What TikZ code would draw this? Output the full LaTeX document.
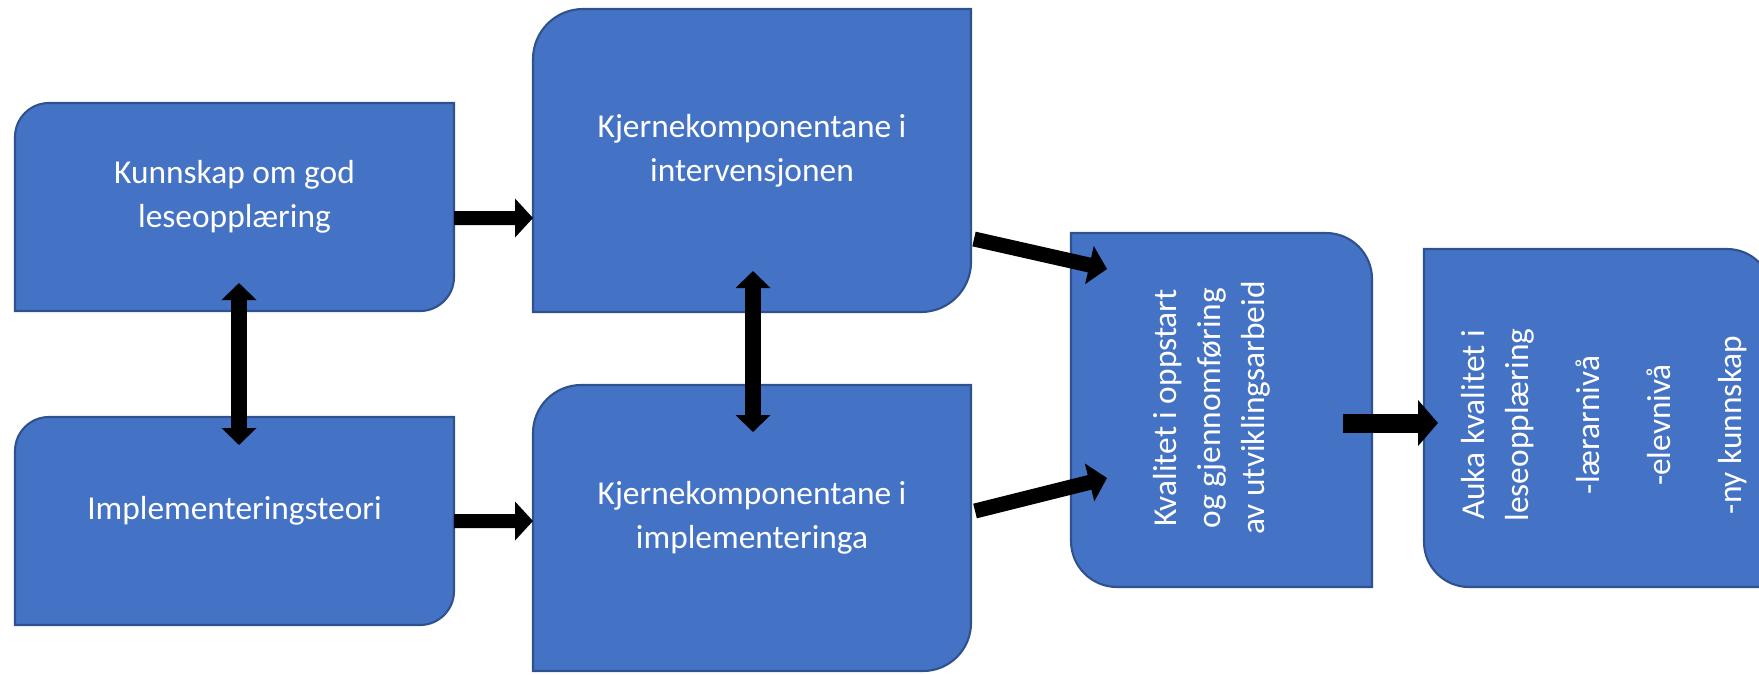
\documentclass[tikz,border=0pt]{standalone}
\usepackage{fontspec}
\setmainfont{Carlito}
\usetikzlibrary{arrows.meta, positioning}
\definecolor{boxblue}{HTML}{4472C4}
\definecolor{boxedge}{HTML}{2F528F}

% box with rounded top left and bottom right corners
\newcommand{\roundtlbr}[2]{%
  \filldraw[boxshape] (#1.south west) -- ([yshift=-#2]#1.north west)
    arc[start angle=180, end angle=90, radius=#2] -- (#1.north east)
    -- ([yshift=#2]#1.south east) arc[start angle=0, end angle=-90, radius=#2] -- cycle;}
% box with rounded top right and bottom left corners
\newcommand{\roundtrbl}[2]{%
  \filldraw[boxshape] (#1.north west) -- ([xshift=-#2]#1.north east)
    arc[start angle=90, end angle=0, radius=#2] -- (#1.south east)
    -- ([xshift=#2]#1.south west) arc[start angle=270, end angle=180, radius=#2] -- cycle;}

\begin{document}
\begin{tikzpicture}[
        box/.style={draw=none, inner sep=0pt, outer sep=0pt},
        boxshape/.style={fill=boxblue, draw=boxedge, line width=0.6pt},
        boxtext/.style={text=white, align=center, font=\fontsize{9.5}{12.5}\selectfont},
        fatarrow/.style={black, line width=0.14cm, -{Triangle[width=0.38cm, length=0.18cm]}},
        fatdouble/.style={black, line width=0.16cm, {Triangle[width=0.34cm, length=0.17cm]}-{Triangle[width=0.34cm, length=0.17cm]}}
      ]
        \useasboundingbox (0,0) rectangle (17.59,6.74);

        % Boxes
        \node (kunnskap) [box, minimum width=4.39cm, minimum height=2.08cm] at (2.345,4.67) {};
        \node (teori) [box, minimum width=4.39cm, minimum height=2.08cm, below=1.06cm of kunnskap] {};
        \node (kjerne_int) [box, minimum width=4.38cm, minimum height=3.03cm] at (7.52,5.135) {};
        \node (kjerne_impl) [box, minimum width=4.38cm, minimum height=2.86cm, below=0.73cm of kjerne_int] {};
        \node (kvalitet) [box, minimum width=3.01cm, minimum height=3.54cm] at (12.215,2.64) {};
        \node (auka) [box, minimum width=3.48cm, minimum height=3.38cm] at (15.98,2.56) {};

        \roundtlbr{kunnskap}{0.34cm}
        \roundtlbr{teori}{0.34cm}
        \roundtlbr{kjerne_int}{0.5cm}
        \roundtlbr{kjerne_impl}{0.48cm}
        \roundtrbl{kvalitet}{0.46cm}
        \roundtrbl{auka}{0.45cm}

        % Texts
        \node (kunnskap_txt) [boxtext] at ([yshift=0.1cm]kunnskap.center) {Kunnskap om god\\leseopplæring};
        \node (teori_txt) [boxtext] at ([yshift=0.1cm]teori.center) {Implementeringsteori};
        \node (kjerne_int_txt) [boxtext] at ([yshift=0.1cm]kjerne_int.center) {Kjernekomponentane i\\intervensjonen};
        \node (kjerne_impl_txt) [boxtext] at ([yshift=0.1cm]kjerne_impl.center) {Kjernekomponentane i\\implementeringa};
        \node (kvalitet_txt) [boxtext, rotate=90] at ([xshift=-0.1cm, yshift=0.02cm]kvalitet.center) {Kvalitet i oppstart\\og gjennomføring\\av utviklingsarbeid};
        \node (auka_txt) [boxtext, rotate=90] at ([xshift=0.06cm, yshift=-0.07cm]auka.center) {Auka kvalitet i\\leseopplæring\\[0.27cm]-lærarnivå\\[0.27cm]-elevnivå\\[0.27cm]-ny kunnskap};

        % Arrows
        \draw [fatarrow] ([yshift=-0.11cm]kunnskap.east) -- ([yshift=-0.575cm]kjerne_int.west);
        \draw [fatarrow] (teori.east) -- ([yshift=0.07cm]kjerne_impl.west);
        \draw [fatdouble] ([xshift=0.045cm, yshift=0.28cm]kunnskap.south) -- ([xshift=0.045cm, yshift=-0.28cm]teori.north);
        \draw [fatdouble] ([xshift=0.01cm, yshift=0.41cm]kjerne_int.south) -- ([xshift=0.01cm, yshift=-0.47cm]kjerne_impl.north);
        \draw [fatarrow, line width=0.15cm] ([shift={(0.03,-0.785)}]kjerne_int.east) -- ([shift={(0.36,1.41)}]kvalitet.west);
        \draw [fatarrow, line width=0.15cm] ([shift={(0.04,0.17)}]kjerne_impl.east) -- ([shift={(0.36,-0.68)}]kvalitet.west);
        \draw [fatarrow, line width=0.19cm, -{Triangle[width=0.45cm, length=0.2cm]}] ([shift={(-0.29,-0.13)}]kvalitet.east) -- ([shift={(0.14,-0.05)}]auka.west);
      \end{tikzpicture}
\end{document}
